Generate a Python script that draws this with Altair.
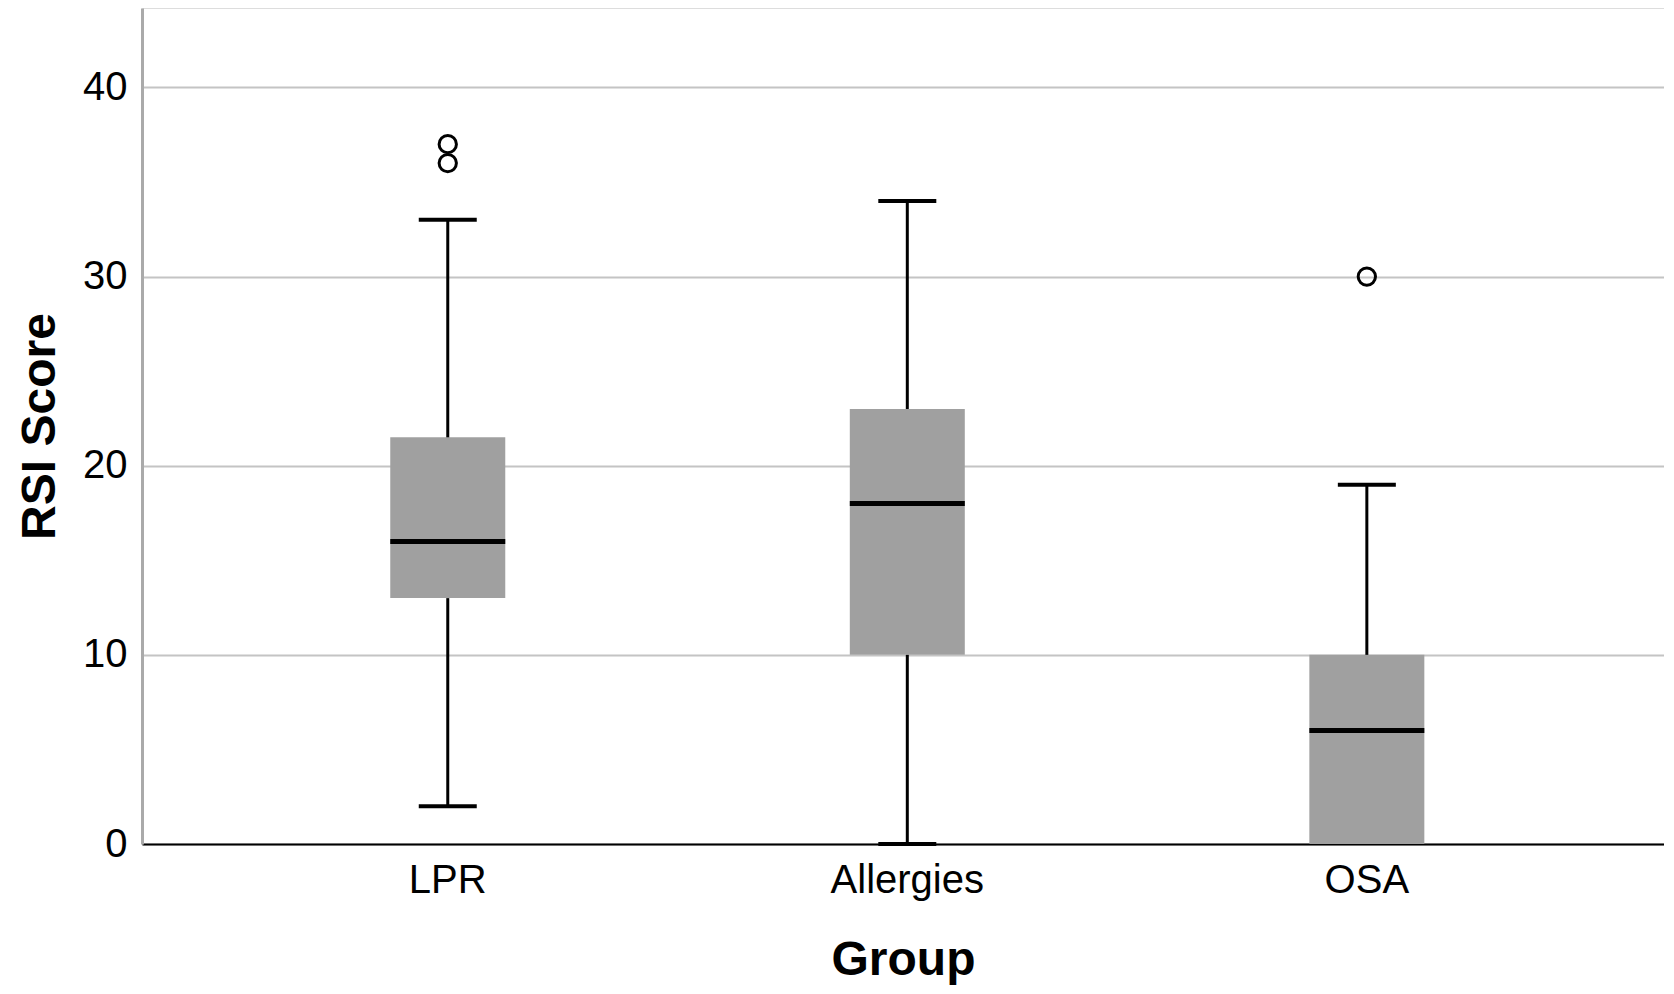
import altair as alt
import pandas as pd

groups = ["LPR", "Allergies", "OSA"]
lower_whisker = [2, 0, 0]
q1 = [13, 10, 0]
median = [16, 18, 6]
q3 = [21.5, 23, 10]
upper_whisker = [33, 34, 19]

outlier_group = ["LPR", "LPR", "OSA"]
outlier_value = [36, 37, 30]

y_ticks = [0, 10, 20, 30, 40]

FONT = "Liberation Sans"
BOX_W = 115
CAP_W = 58

stats = pd.DataFrame({
    "group": groups,
    "lo": lower_whisker,
    "q1": q1,
    "med": median,
    "q3": q3,
    "hi": upper_whisker,
})

caps = pd.DataFrame({
    "group": groups + groups,
    "v": lower_whisker + upper_whisker,
    "edge": q1 + q3,
})
caps = caps[caps["v"] != caps["edge"]]

outliers = pd.DataFrame({"group": outlier_group, "v": outlier_value})

x_enc = alt.X(
    "group:N",
    sort=groups,
    scale=alt.Scale(domain=groups, paddingOuter=0.156, paddingInner=0, align=0.53),
    axis=alt.Axis(
        title="Group", labelAngle=0, grid=False, ticks=False, tickSize=0,
        domainColor="black", domainWidth=2, labelFontSize=40, labelPadding=16,
        labelColor="black", labelFont=FONT, titleFont=FONT, titleFontSize=48,
        titleFontWeight="bold", titlePadding=36, titleColor="black",
    ),
)
y_scale = alt.Scale(domain=[0, 44.2], nice=False, zero=True)
y_axis = alt.Axis(
    title="RSI Score", values=y_ticks, grid=True, gridColor="#c4c4c4", gridWidth=2,
    ticks=False, tickSize=0, domainColor="#aaaaaa", domainWidth=3,
    labelFontSize=40, labelPadding=15, labelColor="black", labelFont=FONT,
    titleFont=FONT, titleFontSize=48, titleFontWeight="bold", titlePadding=18,
    titleColor="black",
)

base = alt.Chart(stats)

boxes = base.mark_bar(size=BOX_W, color="#a0a0a0").encode(
    x=x_enc,
    y=alt.Y("q1:Q", scale=y_scale, axis=y_axis),
    y2="q3:Q",
)

whisk_lo = base.mark_rule(color="black", strokeWidth=3).encode(
    x=alt.X("group:N", sort=groups),
    y="lo:Q",
    y2="q1:Q",
)
whisk_hi = base.mark_rule(color="black", strokeWidth=3).encode(
    x=alt.X("group:N", sort=groups),
    y="q3:Q",
    y2="hi:Q",
)

cap_marks = alt.Chart(caps).mark_tick(
    orient="horizontal", size=CAP_W, thickness=4, color="black", opacity=1
).encode(
    x=alt.X("group:N", sort=groups),
    y="v:Q",
)

med_marks = base.mark_tick(
    orient="horizontal", size=BOX_W, thickness=5, color="black", opacity=1
).encode(
    x=alt.X("group:N", sort=groups),
    y="med:Q",
)

out_marks = alt.Chart(outliers).mark_point(
    shape="circle", size=300, fill="white", fillOpacity=0, stroke="black",
    strokeWidth=3, opacity=1,
).encode(
    x=alt.X("group:N", sort=groups),
    y="v:Q",
)

chart = alt.layer(
    boxes, whisk_lo, whisk_hi, cap_marks, med_marks, out_marks
).properties(
    width=1522,
    height=836,
    padding={"left": 134, "top": 0, "right": 0, "bottom": 142},
    autosize=alt.AutoSizeParams(type="none"),
).configure_view(stroke=None).configure(background="white")

chart.save("out.html", embed_options={"renderer": "svg", "actions": False})
